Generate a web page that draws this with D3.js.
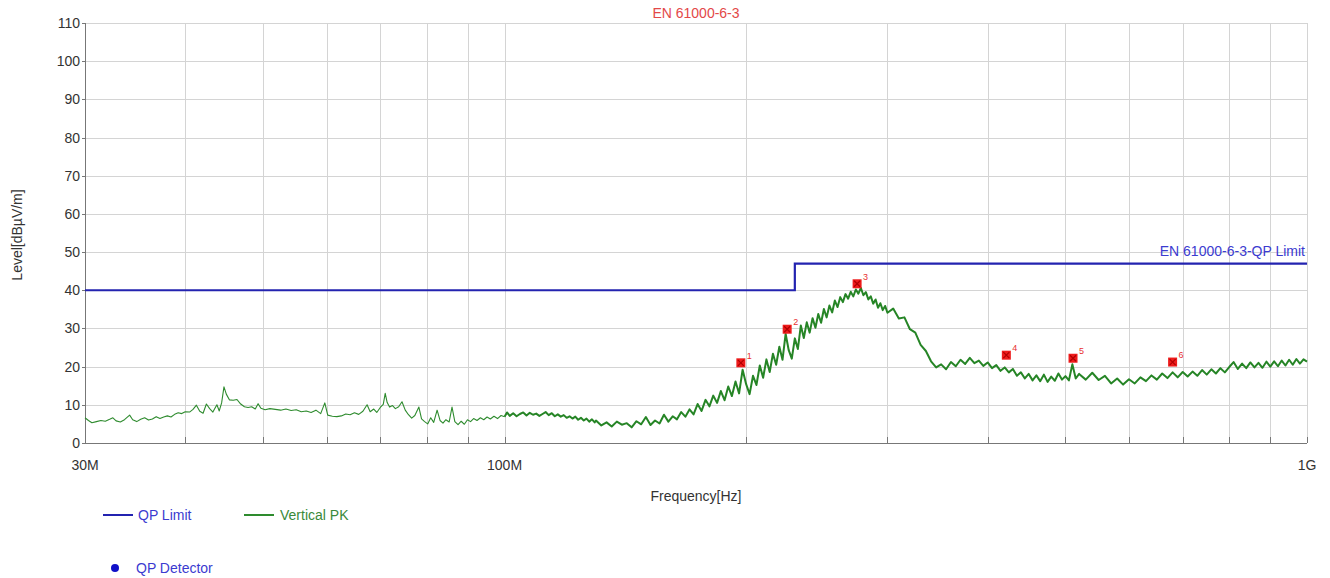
<!DOCTYPE html>
<meta charset="utf-8">
<title>EN 61000-6-3</title>
<style>
body {
  margin: 0;
  background: #fff;
  font-family: "Liberation Sans", Arial, sans-serif;
}

.grid line {
  stroke: #d4d4d4;
  stroke-width: 1px;
  shape-rendering: crispEdges;
}

.axis path, .axis line {
  stroke: #777;
  shape-rendering: crispEdges;
}

.axis text {
  font-size: 14px;
  fill: #333;
}

path.trace {
  fill: none;
  stroke: #2e8b2e;
  stroke-width: 1.1px;
  stroke-linejoin: round;
}

path.trace.dense {
  stroke: #268526;
  stroke-width: 2px;
}

path.limit {
  fill: none;
  stroke: #2323b0;
  stroke-width: 2.2px;
}
</style>

<body>
<div id="vis"></div>

<script src="https://cdn.jsdelivr.net/npm/d3@7"></script>
<script>

var width = 1330,
    height = 578;

// frequency in MHz, level in dBuV/m
var yTicks = [0, 10, 20, 30, 40, 50, 60, 70, 80, 90, 100, 110];
var gridFreqs = [40, 50, 60, 70, 80, 90, 100, 200, 300, 400, 500, 600, 700, 800, 900, 1000];
var xLabelFreqs = [30, 100, 1000];
var xLabels = ["30M", "100M", "1G"];

var limitFreq = [30, 230, 1000];
var limitLevel = [40, 47, 47];

var markerFreq = [197, 225, 275, 422, 511, 680];
var markerLevel = [21.0, 29.8, 41.7, 23.0, 22.2, 21.2];

// Vertical PK sweep, 30M - 100M
var traceLow = [
  [30.0,6.6],[30.3,5.9],[30.6,5.3],[31.0,5.6],[31.4,5.9],[31.8,5.7],[32.2,6.2],[32.5,6.6],
  [32.8,5.8],[33.2,5.5],[33.6,6.1],[34.1,7.3],[34.4,6.1],[34.8,5.6],[35.2,6.2],[35.6,6.6],
  [36.0,6.0],[36.4,6.3],[36.8,6.9],[37.2,6.4],[37.6,6.8],[38.0,7.1],[38.4,6.8],[38.8,7.5],
  [39.2,7.9],[39.6,7.7],[40.0,8.2],[40.5,8.1],[40.9,8.8],[41.3,9.9],[41.7,8.3],[42.1,7.8],
  [42.5,10.2],[42.9,9.0],[43.3,8.1],[43.8,10.0],[44.1,8.4],[44.4,10.5],[44.7,14.7],[45.0,12.8],
  [45.4,11.3],[45.9,11.2],[46.4,11.4],[46.9,10.2],[47.4,9.5],[47.9,9.3],[48.4,9.5],[48.9,8.9],
  [49.3,10.3],[49.7,9.1],[50.3,8.7],[51.0,9.0],[51.8,8.8],[52.6,8.6],[53.4,8.9],[54.2,8.5],
  [55.0,8.7],[55.8,8.2],[56.6,8.4],[57.4,8.0],[58.2,8.6],[59.0,7.7],[59.7,10.5],[60.2,7.3],
  [61.0,7.0],[61.8,6.9],[62.6,7.1],[63.4,7.6],[64.2,7.4],[65.0,7.9],[65.8,7.5],[66.6,8.3],
  [67.4,10.0],[68.0,8.2],[68.7,8.9],[69.3,8.0],[70.0,9.3],[70.6,10.1],[71.0,13.0],[71.4,10.6],
  [71.9,9.4],[72.5,9.8],[73.1,9.0],[73.8,9.5],[74.5,10.8],[75.2,8.6],[75.9,7.4],[76.6,6.5],
  [77.3,7.2],[78.2,9.4],[78.8,6.3],[79.5,5.6],[80.2,5.0],[80.9,6.6],[81.6,5.4],[82.4,8.6],
  [83.1,5.9],[83.8,5.2],[84.5,6.1],[85.3,5.5],[86.0,9.4],[86.7,5.6],[87.5,4.8],[88.3,5.7],
  [89.1,4.9],[89.9,6.1],[90.7,5.6],[91.5,6.4],[92.4,5.9],[93.3,6.6],[94.2,6.1],[95.1,6.8],
  [96.0,6.3],[97.0,7.0],[98.0,6.4],[99.0,7.2],[100.0,6.9]
];

// Vertical PK sweep, 100M - 1G
var traceHigh = [
  [100.0,6.9],[100.7,8.0],[101.5,7.1],[102.5,7.8],
  [103.5,7.0],[104.5,7.6],[105.5,8.0],[106.5,7.2],[107.5,7.9],[108.5,7.4],[109.5,7.7],[110.5,7.1],
  [111.5,7.6],[112.5,8.1],[113.5,7.3],[114.5,7.8],[115.5,7.0],[116.5,7.5],[117.5,6.9],[118.5,7.3],
  [119.5,6.6],[120.5,7.0],[121.5,6.4],[122.5,6.9],[123.5,6.1],[124.5,6.6],[125.5,5.9],[126.5,6.4],
  [127.5,5.6],[128.5,6.2],[129.5,5.4],[130.0,5.9],[132,4.6],[134,5.4],[136,4.3],[138,5.6],
  [140,4.8],[142,5.2],[144,4.1],[146,5.7],[148,4.9],[150,6.8],[152,4.7],[154,5.9],
  [156,5.1],[158,7.4],[160,5.6],[162,7.0],[164,6.2],[166,8.1],[168,6.9],[170,8.8],
  [172,7.5],[174,10.2],[176,8.4],[178,11.3],[180,9.6],[182,12.4],[184,10.5],[186,13.6],
  [188,11.2],[190,14.8],[192,12.3],[194,16.1],[196,13.0],[198,19.2],[200,15.4],[202,12.8],
  [204,17.6],[206,15.2],[208,20.3],[210,17.1],[212,21.9],[214,18.6],[216,23.4],[218,20.5],
  [220,25.2],[222,21.8],[224,28.6],[226,24.3],[228,22.1],[230,27.4],[232,24.6],[234,30.8],
  [236,27.5],[238,31.6],[240,28.9],[242,32.7],[244,30.2],[246,33.8],[248,31.5],[250,35.1],
  [252,32.9],[254,36.0],[256,34.2],[258,37.3],[260,35.6],[262,38.2],[264,36.9],[266,39.0],
  [268,37.8],[270,39.6],[272,38.4],[274,40.2],[276,39.1],[278,40.6],[280,38.7],[282,39.5],
  [284,37.6],[286,38.4],[288,36.5],[290,37.6],[292,35.4],[294,36.6],[296,34.8],[298,35.9],
  [300,34.1],[305,35.2],[310,32.6],[315,32.9],[320,29.8],[325,28.9],[330,25.7],[335,24.1],
  [340,21.4],[345,19.8],[350,20.6],[355,19.3],[360,21.2],[365,20.1],[370,21.8],[375,20.7],
  [380,22.3],[385,20.9],[390,21.6],[395,20.2],[400,21.1],[405,19.6],[410,20.4],[415,18.9],
  [420,19.8],[425,18.5],[430,19.4],[435,17.6],[440,18.5],[445,16.9],[450,18.1],[455,16.4],
  [460,17.7],[465,16.2],[470,17.9],[475,16.0],[480,17.4],[485,16.3],[490,18.2],[495,16.6],
  [500,17.5],[505,16.4],[510,20.6],[515,16.9],[520,18.1],[530,16.6],[540,18.4],[550,16.5],
  [560,17.6],[570,15.6],[580,16.9],[590,15.3],[600,16.7],[610,15.6],[620,17.2],[630,16.2],
  [640,17.7],[650,16.6],[660,18.2],[670,17.0],[680,18.5],[690,17.2],[700,18.6],[710,17.4],
  [720,18.7],[730,17.6],[740,19.1],[750,17.9],[760,19.3],[770,18.2],[780,19.6],[790,18.5],
  [800,19.9],[810,21.2],[820,19.4],[830,20.8],[840,19.6],[850,21.1],[860,19.8],[870,21.0],
  [880,19.7],[890,21.3],[900,20.0],[910,21.4],[920,20.1],[930,21.6],[940,20.3],[950,21.8],
  [960,20.5],[970,22.0],[980,20.8],[990,21.9],[1000,21.3]
];

var plotLeft = 85, plotRight = 1307, plotTop = 23, plotBottom = 443;

var x = d3.scaleLog()
    .domain([30, 1000])
    .range([plotLeft, plotRight]);

var y = d3.scaleLinear()
    .domain([0, 110])
    .range([plotBottom, plotTop]);

var svg = d3.select("#vis").append("svg")
    .attr("width", width)
    .attr("height", height);

// grid
var grid = svg.append("g").attr("class", "grid");

grid.selectAll(".hg")
    .data(yTicks.slice(1))
  .enter().append("line")
    .attr("x1", plotLeft).attr("x2", plotRight)
    .attr("y1", function(d) { return Math.round(y(d)) + 0.5; })
    .attr("y2", function(d) { return Math.round(y(d)) + 0.5; });

grid.selectAll(".vg")
    .data(gridFreqs)
  .enter().append("line")
    .attr("x1", function(d) { return Math.round(x(d)) + 0.5; })
    .attr("x2", function(d) { return Math.round(x(d)) + 0.5; })
    .attr("y1", plotTop).attr("y2", plotBottom);

// axes
var yAxis = d3.axisLeft(y)
    .tickValues(yTicks)
    .tickSize(3)
    .tickPadding(2);

svg.append("g")
    .attr("class", "axis")
    .attr("transform", "translate(" + plotLeft + ",0)")
    .call(yAxis)
    .call(function(g) { g.select(".domain").attr("d", "M0," + plotTop + "V" + plotBottom); });

var xAxis = d3.axisBottom(x)
    .tickValues(gridFreqs)
    .tickSize(-6)
    .tickFormat("");

svg.append("g")
    .attr("class", "axis")
    .attr("transform", "translate(0," + plotBottom + ")")
    .call(xAxis)
    .call(function(g) { g.select(".domain").attr("d", "M" + plotLeft + ",0H" + plotRight); });

svg.selectAll(".xlabel")
    .data(xLabelFreqs)
  .enter().append("text")
    .attr("x", function(d) { return x(d); })
    .attr("y", 470)
    .attr("text-anchor", "middle")
    .style("font-size", "14px")
    .style("fill", "#333")
    .text(function(d, i) { return xLabels[i]; });

// titles
svg.append("text")
    .attr("x", (plotLeft + plotRight) / 2)
    .attr("y", 18)
    .attr("text-anchor", "middle")
    .style("font-size", "14px")
    .style("fill", "#e34848")
    .text("EN 61000-6-3");

svg.append("text")
    .attr("x", (plotLeft + plotRight) / 2)
    .attr("y", 501)
    .attr("text-anchor", "middle")
    .style("font-size", "14px")
    .style("fill", "#333")
    .text("Frequency[Hz]");

svg.append("text")
    .attr("transform", "translate(22,235) rotate(-90)")
    .attr("text-anchor", "middle")
    .style("font-size", "14px")
    .style("fill", "#333")
    .text("Level[dBµV/m]");

// trace
var line = d3.line()
    .x(function(d) { return x(d[0]); })
    .y(function(d) { return y(d[1]); });

svg.append("path")
    .datum(traceLow)
    .attr("class", "trace")
    .attr("d", line);

svg.append("path")
    .datum(traceHigh)
    .attr("class", "trace dense")
    .attr("d", line);

// limit
var limitLine = d3.line()
    .curve(d3.curveStepAfter)
    .x(function(d, i) { return x(limitFreq[i]); })
    .y(function(d) { return y(d); });

svg.append("path")
    .datum(limitLevel)
    .attr("class", "limit")
    .attr("d", limitLine);

svg.append("text")
    .attr("x", plotRight - 2)
    .attr("y", y(limitLevel[2]) - 8)
    .attr("text-anchor", "end")
    .style("font-size", "14px")
    .style("fill", "#3b3bd0")
    .text("EN 61000-6-3-QP Limit");

// markers
var marker = svg.selectAll(".marker")
    .data(markerFreq)
  .enter().append("g")
    .attr("class", "marker")
    .attr("transform", function(d, i) {
      return "translate(" + x(d) + "," + y(markerLevel[i]) + ")";
    });

marker.append("rect")
    .attr("x", -4.5).attr("y", -4.5)
    .attr("width", 9).attr("height", 9)
    .style("fill", "#ee1c1c");

marker.append("path")
    .attr("d", "M-3,-3L3,3M3,-3L-3,3")
    .style("stroke", "#b00000")
    .style("stroke-width", 1.2);

marker.append("text")
    .attr("x", 6)
    .attr("y", -4)
    .style("font-size", "9px")
    .style("fill", "#e83030")
    .text(function(d, i) { return i + 1; });

// legend
var legend = svg.append("g");

legend.append("line")
    .attr("x1", 103).attr("x2", 133)
    .attr("y1", 515).attr("y2", 515)
    .style("stroke", "#2323b0").style("stroke-width", 2);

legend.append("text")
    .attr("x", 138).attr("y", 520)
    .style("font-size", "14px").style("fill", "#3b3bd0")
    .text("QP Limit");

legend.append("line")
    .attr("x1", 244).attr("x2", 274)
    .attr("y1", 515).attr("y2", 515)
    .style("stroke", "#2e8b2e").style("stroke-width", 2);

legend.append("text")
    .attr("x", 280).attr("y", 520)
    .style("font-size", "14px").style("fill", "#3a8a3a")
    .text("Vertical PK");

legend.append("circle")
    .attr("cx", 115).attr("cy", 568).attr("r", 4)
    .style("fill", "#1010c8");

legend.append("text")
    .attr("x", 136).attr("y", 573)
    .style("font-size", "14px").style("fill", "#3b3bd0")
    .text("QP Detector");

</script>
</body>
